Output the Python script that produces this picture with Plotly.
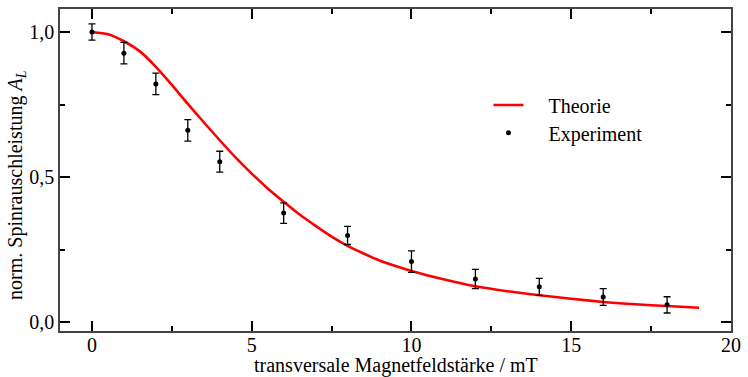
import plotly.graph_objects as go

# Experimental data
exp_x = [0, 1, 2, 3, 4, 6, 8, 10, 12, 14, 16, 18]
exp_y = [1.000, 0.927, 0.821, 0.661, 0.553, 0.376, 0.299, 0.209, 0.149, 0.122, 0.087, 0.060]
exp_err = [0.028, 0.037, 0.037, 0.037, 0.036, 0.035, 0.031, 0.037, 0.033, 0.029, 0.029, 0.028]

# Theory curve
theo_x = [0, 0.5, 1, 1.5, 2, 2.5, 3, 3.5, 4, 4.5, 5, 5.5, 6, 6.5, 7, 7.5, 8, 8.5, 9, 9.5,
          10, 11, 12, 13, 14, 15, 16, 17, 18, 19]
theo_y = [1.000, 0.992, 0.968, 0.933, 0.880, 0.818, 0.752, 0.689, 0.627, 0.567, 0.512, 0.461,
          0.415, 0.371, 0.332, 0.295, 0.263, 0.237, 0.213, 0.194,
          0.177, 0.148, 0.124, 0.107, 0.093, 0.081, 0.070, 0.062, 0.056, 0.050]

x_ticks = [0, 5, 10, 15, 20]
y_ticks = [0.0, 0.5, 1.0]

FONT = "Liberation Serif, Times New Roman, serif"
NB = "\u00a0"

fig = go.Figure()
fig.add_trace(go.Scatter(
    x=theo_x, y=theo_y, mode="lines", name=NB * 4 + "Theorie",
    line=dict(color="#ff0000", width=2.6, shape="spline", smoothing=0.6),
    legend="legend",
))
fig.add_trace(go.Scatter(
    x=exp_x, y=exp_y, mode="markers", name=NB * 4 + "Experiment",
    marker=dict(color="black", size=5),
    error_y=dict(type="data", array=exp_err, color="black", thickness=1.3, width=3.5),
    legend="legend2",
))

axis_common = dict(
    showgrid=False, zeroline=False, showline=True, linecolor="#444", linewidth=1.5,
    mirror="ticks", ticks="inside", tickcolor="black", tickwidth=1.5, ticklen=10,
    tickfont=dict(family=FONT, size=20, color="black"),
)

fig.update_xaxes(
    range=[-1.0, 20.0], tickvals=x_ticks, ticklabelstandoff=-5,
    minor=dict(dtick=2.5, tick0=0, ticks="inside", ticklen=5, tickwidth=1.5, tickcolor="black"),
    **axis_common,
)
fig.update_yaxes(
    range=[-0.030, 1.079], tickvals=y_ticks, tickformat=".1f",
    minor=dict(dtick=0.25, tick0=0, ticks="inside", ticklen=5, tickwidth=1.5, tickcolor="black"),
    **axis_common,
)

fig.add_annotation(
    text="norm. Spinrauschleistung <i>A</i><sub><i>L</i></sub>",
    xref="paper", yref="paper", x=-0.064, y=(331 - 184) / 324, xanchor="center", yanchor="middle",
    textangle=-90, showarrow=False, font=dict(family=FONT, size=20, color="black"),
)
fig.add_annotation(
    text="transversale Magnetfeldstärke / mT",
    xref="paper", yref="paper", x=0.5, y=(331 - 366) / 324, xanchor="center", yanchor="middle",
    showarrow=False, font=dict(family=FONT, size=20, color="black"),
)

leg_common = dict(
    xanchor="left", yanchor="top", bgcolor="rgba(0,0,0,0)",
    font=dict(family=FONT, size=20, color="black"),
)
fig.update_layout(
    width=748, height=377,
    margin=dict(l=60, r=13, t=7, b=46),
    paper_bgcolor="white", plot_bgcolor="white",
    separators=", ",
    font=dict(family=FONT, size=20, color="black"),
    legend=dict(x=(491 - 60) / 675, y=(331 - 84) / 324, **leg_common),
    legend2=dict(x=(491 - 60) / 675, y=(331 - 112) / 324, **leg_common),
    showlegend=True,
)

fig.write_html("out.html")
